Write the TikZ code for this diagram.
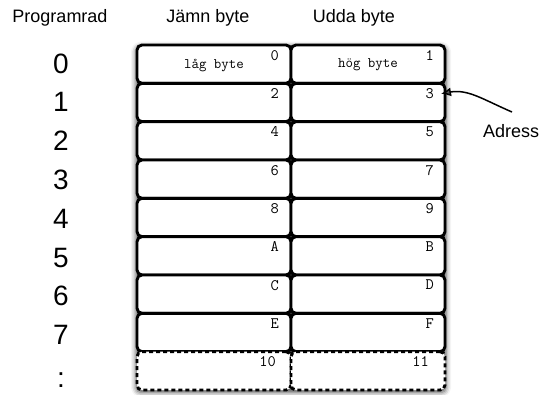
\documentclass[tikz,border=0pt]{standalone}
\usepackage{fontspec}
\setmainfont{Liberation Sans}
\usetikzlibrary{arrows.meta,shadows.blur}
\tikzset{
  cell/.style={draw, line width=2.9pt, rounded corners=5pt, minimum width=154pt,
    minimum height=38.33pt, inner sep=0pt, outer sep=0pt, fill=white, anchor=north west},
  dashcell/.style={cell, dash pattern=on 4pt off 3pt},
  num/.style={anchor=north east, inner sep=0pt, font=\ttfamily\fontsize{16}{16}\selectfont},
  inner/.style={inner sep=0pt, font=\ttfamily\fontsize{14.5}{14.5}\selectfont},
  head/.style={anchor=base, inner sep=0pt, font=\fontsize{18}{18}\selectfont},
  rownum/.style={anchor=base, inner sep=0pt, font=\fontsize{28}{28}\selectfont},
}
\begin{document}
\begin{tikzpicture}[x=1pt,y=-1pt]
\useasboundingbox (0,0) rectangle (540,394);
% headers
\node[head] (hprog) at (60,22) {Programrad};
\node[head] (heven) at (208,22) {Jämn byte};
\node[head] (hodd) at (354,22) {Udda byte};
% shadow behind the grid
\path[blur shadow={shadow xshift=0pt, shadow yshift=-1.5pt, shadow blur radius=5pt, shadow opacity=70},
  rounded corners=5pt] (136,45) rectangle (446,391);
% cells
\foreach \i/\a/\b in {0/0/1,1/2/3,2/4/5,3/6/7,4/8/9,5/A/B,6/C/D,7/E/F} {
  \node[cell] (L\i) at (137,{45+\i*38.33}) {};
  \node[cell] (R\i) at (291,{45+\i*38.33}) {};
  \node[num] (nL\i) at ([xshift=-12pt,yshift=-5pt]L\i.north east) {\a};
  \node[num] (nR\i) at ([xshift=-11pt,yshift=-5pt]R\i.north east) {\b};
  \node[rownum] (d\i) at (61,{73+\i*38.8}) {\i};
}
\node[dashcell] (L8) at (137,351.7) {};
\node[dashcell] (R8) at (291,351.7) {};
\node[num] (nL8) at ([xshift=-15pt,yshift=-5pt]L8.north east) {10};
\node[num] (nR8) at ([xshift=-16pt,yshift=-5pt]R8.north east) {11};
\node[rownum] (dcolon) at (61,387) {:};
% inner texts
\node[inner] (low) at ([yshift=-1pt]L0.center) {låg byte};
\node[inner] (high) at ([yshift=-1pt]R0.center) {hög byte};
% address arrow
\node[anchor=base west, inner sep=0pt, font=\fontsize{18}{18}\selectfont] (adr) at (483,137) {Adress};
\coordinate (adrtail) at (512,112);
\draw[line width=1.5pt, -{Latex[length=10pt,width=9pt]}] (adrtail) .. controls (482,99) and (468,89) .. ([xshift=7pt]nR1.east);
\end{tikzpicture}
\end{document}
